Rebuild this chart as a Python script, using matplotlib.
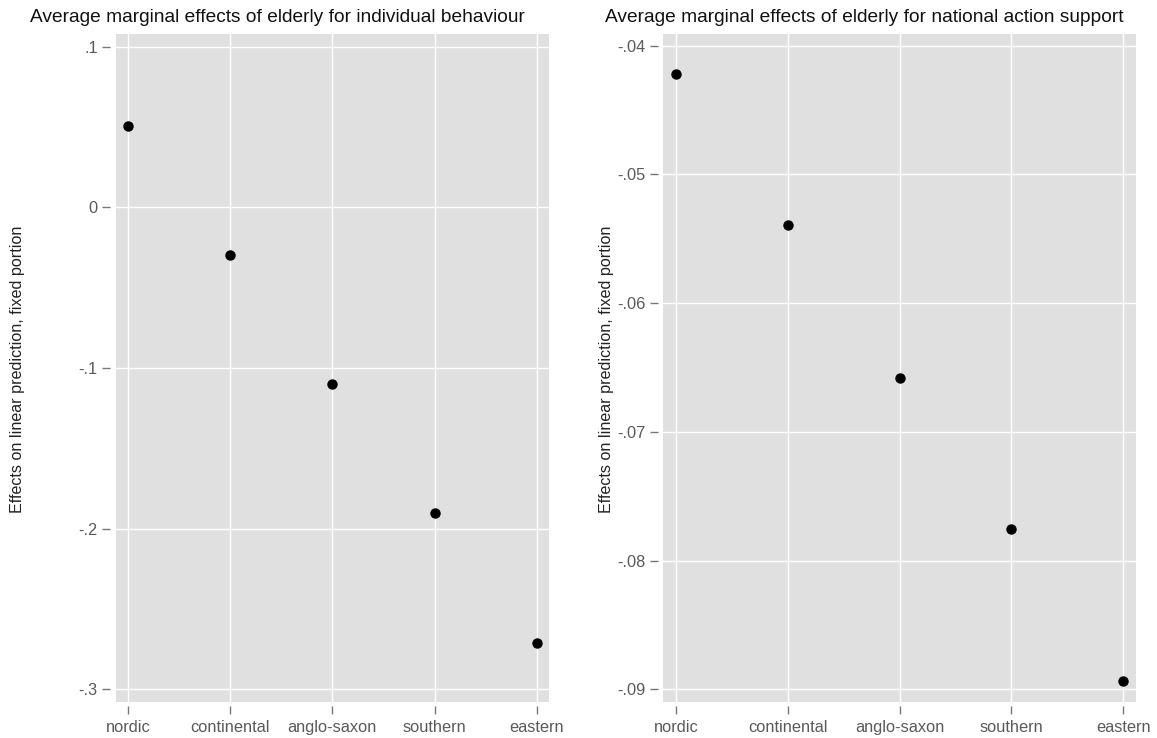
import matplotlib
matplotlib.use("Agg")
import matplotlib.pyplot as plt

plt.rcParams["font.family"] = ["Liberation Sans", "DejaVu Sans"]

REGIMES = ["nordic", "continental", "anglo-saxon", "southern", "eastern"]

# Average marginal effects of elderly, by welfare regime
behaviour_ame = [0.0505, -0.0298, -0.110, -0.1905, -0.271]
national_ame = [-0.04218, -0.05394, -0.06578, -0.07754, -0.08938]

behaviour_ticks = [0.1, 0.0, -0.1, -0.2, -0.3]
behaviour_labels = [".1", "0", "-.1", "-.2", "-.3"]
national_ticks = [-0.04, -0.05, -0.06, -0.07, -0.08, -0.09]
national_labels = ["-.04", "-.05", "-.06", "-.07", "-.08", "-.09"]

BG = "#e0e0e0"
TICK_GREY = "#5a5a5a"
YLABEL = "Effects on linear prediction, fixed portion"

fig = plt.figure(figsize=(11.57, 7.38), dpi=100)
fig.patch.set_facecolor("white")

panels = [
    dict(rect=[0.1000, 0.0492, 0.3745, 0.9047], vals=behaviour_ame,
         ticks=behaviour_ticks, labels=behaviour_labels,
         ylim=(-0.3077, 0.1079), xlim=(0.88, 5.12),
         title="Average marginal effects of elderly for individual behaviour",
         title_x=30, ylab_x=18),
    dict(rect=[0.5733, 0.0492, 0.4083, 0.9047], vals=national_ame,
         ticks=national_ticks, labels=national_labels,
         ylim=(-0.09096, -0.03909), xlim=(0.886, 5.111),
         title="Average marginal effects of elderly for national action support",
         title_x=605, ylab_x=606),
]

xpos = list(range(1, len(REGIMES) + 1))

for p in panels:
    ax = fig.add_axes(p["rect"])
    ax.set_facecolor(BG)
    for s in ax.spines.values():
        s.set_visible(False)
    ax.spines["left"].set_position(("outward", 4))
    ax.spines["bottom"].set_position(("outward", 3))

    ax.set_xlim(*p["xlim"])
    ax.set_ylim(*p["ylim"])
    ax.set_xticks(xpos)
    ax.set_xticklabels(REGIMES)
    ax.set_yticks(p["ticks"])
    ax.set_yticklabels(p["labels"])
    ax.tick_params(axis="both", colors="#777777", labelcolor=TICK_GREY,
                   labelsize=11.8, length=6, width=1.0)
    ax.tick_params(axis="y", pad=3)
    ax.tick_params(axis="x", pad=4)

    ax.grid(True, color="white", linewidth=1.0)
    ax.set_axisbelow(True)

    ax.plot(xpos, p["vals"], "o", color="black", markersize=6.5,
            linestyle="none", zorder=3)

    fig.text(p["title_x"] / 1157, 1 - 18 / 738, p["title"],
             ha="left", va="center", fontsize=13.8, color="#111111")
    fig.text(p["ylab_x"] / 1157, 1 - 369 / 738, YLABEL, rotation=90,
             ha="center", va="center", fontsize=11.6, color="#222222")

fig.savefig("out.png", dpi=100, facecolor="white")
